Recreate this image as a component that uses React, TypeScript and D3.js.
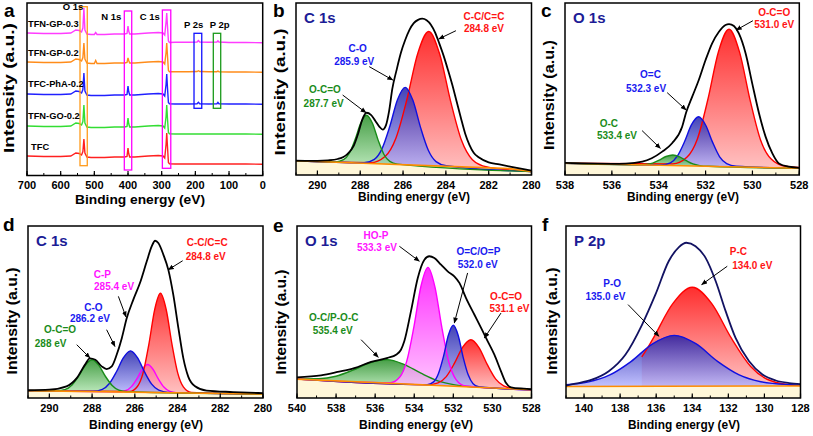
import React from "react";
import * as d3 from "d3";

type P = [number, number];

const FONT = "'Liberation Sans', Arial, Helvetica, sans-serif";

/* ===================== DATA ===================== */

// (a) survey spectra (binding energy grid, intensity in a.u. incl. stacking offset)
const surveyEnergy = [700, 650, 600, 570, 555, 545, 538, 534, 531, 528, 522, 510, 500, 496, 492, 470, 440, 410, 403, 400, 398, 395, 380, 340, 310, 296, 291, 287, 285, 283, 280, 277, 260, 220, 195, 191, 187, 160, 136, 133, 130, 100, 50, 0];
const surveyNames = ["TFN-GP-0.3", "TFN-GP-0.2", "TFC-PhA-0.2", "TFN-GO-0.2", "TFC"];
const surveyTFNGP03 = [142.5, 142, 142, 142.5, 145.5, 145, 143.5, 147.5, 167.5, 145.5, 141.5, 141, 141, 143, 141, 141, 141.5, 141.5, 142, 149.5, 144.5, 141.5, 141.5, 142.5, 143, 142.5, 140.5, 153.5, 162.5, 150.5, 134.5, 133, 133.2, 133.2, 133.5, 135, 133.5, 133.2, 133.5, 134.7, 133.5, 133, 133, 132.8];
const surveyTFNGP02 = [113.5, 113, 113, 113.5, 116.5, 116, 114.5, 118, 132.5, 116.5, 112.5, 112, 112, 115, 112, 112, 112.5, 112.5, 113, 117.5, 115, 112.5, 112.5, 113.5, 114, 113.5, 111.5, 123, 132.5, 121, 105, 103.7, 103.7, 103.7, 104, 104.8, 104, 103.7, 103.8, 104.5, 103.8, 103.5, 103.5, 103.3];
const surveyTFCPhA02 = [81.5, 81, 81, 81.5, 84.5, 84, 82.5, 86, 102.5, 84.5, 80.5, 80, 80, 80, 80, 80, 80.5, 80.5, 81, 89.5, 84, 80.5, 80.5, 81.5, 82, 81.5, 79.5, 91, 101.5, 89, 73, 71.7, 71.5, 71.5, 71.8, 73.2, 71.8, 71.5, 71.7, 73, 71.7, 71.5, 71.5, 71.3];
const surveyTFNGO02 = [49.5, 49, 49, 49.5, 52.5, 52, 50.5, 54, 70.5, 52.5, 48.5, 48, 48, 48, 48, 48, 48.5, 48.5, 49, 57.5, 52, 48.5, 48.5, 49.5, 50, 49.5, 47.5, 59, 70.5, 58, 43, 41.7, 41.5, 41.5, 41.5, 41.5, 41.5, 41.5, 41.5, 41.5, 41.5, 41.5, 41.5, 41.3];
const surveyTFC = [19.5, 19, 19, 19.5, 22.5, 22, 20.5, 24, 36.5, 22.5, 18.5, 18, 18, 18, 18, 18, 18.5, 18.5, 19, 27.5, 22, 18.5, 18.5, 19.5, 20, 19.5, 17.5, 31, 42.5, 30, 13, 11.7, 11.5, 11.5, 11.5, 11.5, 11.5, 11.5, 11.5, 11.5, 11.5, 11.5, 11.5, 11.3];
const surveyTicks = [700, 600, 500, 400, 300, 200, 100, 0];
const surveyPeakNames = ["O 1s", "N 1s", "C 1s", "P 2s", "P 2p"];
const surveyPeakRanges: P[] = [[542.6, 521], [411, 389], [298, 273], [204, 181], [146.7, 124.7]];

// (b) C 1s of TFC-type membrane: [eV, intensity above background]
const bTicks = [290, 288, 286, 284, 282, 280];
const bBackground: P[] = [[291, 8.3], [281, 3.7], [280, 2.0]];
const bOCO: P[] = [[291, 0], [289.14, 0.2], [288.78, 1.6], [288.51, 5.5], [288.24, 13.6], [287.97, 23.4], [287.7, 28], [287.43, 23.4], [287.16, 13.6], [286.89, 5.5], [286.62, 1.6], [286.26, 0.2], [280, 0]];
const bCO: P[] = [[291, 0], [287.82, 0.3], [287.34, 2.5], [286.98, 8.9], [286.62, 21.9], [286.26, 37.6], [285.9, 45], [285.54, 37.6], [285.18, 21.9], [284.82, 8.9], [284.46, 2.5], [283.98, 0.3], [280, 0]];
const bCC: P[] = [[291, 0], [287.52, 0.5], [286.84, 4.4], [286.33, 15.4], [285.82, 38], [285.31, 65.1], [284.8, 78], [284.29, 65.1], [283.78, 38], [283.27, 15.4], [282.76, 4.4], [282.08, 0.5], [280, 0]];
const bRaw: P[] = [[291, 0], [290, 0.4], [289.5, 0.9], [289.05, 1.9], [288.6, 5], [288.3, 10], [288.1, 17], [287.9, 25.5], [287.7, 29.4], [287.5, 28.3], [287.3, 25], [287.1, 21.5], [286.95, 20], [286.8, 22.5], [286.65, 31], [286.5, 44], [286.3, 55], [286.1, 65], [285.9, 72.5], [285.7, 78.5], [285.5, 82.5], [285.3, 84.5], [285.1, 85.3], [284.9, 84.5], [284.7, 82], [284.5, 77.5], [284.3, 71], [284.1, 64], [283.9, 56], [283.7, 47.5], [283.5, 38], [283.3, 28.5], [283.1, 19.5], [282.9, 13], [282.7, 8.5], [282.45, 5.8], [282.0, 3.2], [281.5, 2.2], [281, 1.2], [280, 0.5]];

// (c) O 1s
const cTicks = [538, 536, 534, 532, 530, 528];
const cBackground: P[] = [[538, 6.8], [528, 3.9]];
const cOC: P[] = [[538, 0], [534.94, 0.05], [534.55, 0.35], [534.26, 1.2], [533.98, 3.0], [533.69, 5.2], [533.4, 6.2], [533.11, 5.2], [532.82, 3.0], [532.54, 1.2], [532.25, 0.35], [531.86, 0.05], [528, 0]];
const cOeqC: P[] = [[538, 0], [533.9, 0.2], [533.5, 1.6], [533.2, 5.7], [532.9, 14], [532.6, 24], [532.3, 28.7], [532.0, 24], [531.7, 14], [531.4, 5.7], [531.1, 1.8], [530.7, 0.4], [528, 0]];
const cOCO: P[] = [[538, 0], [533.4, 1.0], [532.8, 5], [532.35, 15.8], [531.9, 39], [531.45, 66.8], [531.0, 80], [530.55, 66.8], [530.1, 39], [529.65, 15.8], [529.2, 5], [528.6, 1.0], [528, 0.5]];
const cRaw: P[] = [[538, 0.2], [536, 0.3], [535.4, 0.6], [534.7, 1.9], [534.3, 4], [533.85, 8], [533.43, 13], [533.0, 22.7], [532.83, 31], [532.57, 40.3], [532.29, 50.1], [532.0, 61.8], [531.72, 71.6], [531.43, 78.4], [531.15, 82.4], [531.0, 83], [530.79, 81.9], [530.58, 77.7], [530.29, 66.1], [530.01, 48.8], [529.72, 31.5], [529.44, 18], [529.15, 8.3], [528.87, 2.6], [528.45, 0.8], [528, 0.3]];

// (d) C 1s of TFN-GP
const dTicks = [290, 288, 286, 284, 282, 280];
const dBackground: P[] = [[291, 4.3], [280, 2.3]];
const dOCO: P[] = [[291, 0], [289.66, 0.15], [289.25, 1.0], [288.94, 3.7], [288.62, 9.0], [288.31, 15.4], [288.0, 18.5], [287.69, 15.4], [287.38, 9.0], [287.06, 3.7], [286.75, 1.0], [286.34, 0.15], [280, 0]];
const dCO: P[] = [[291, 0], [287.96, 0.15], [287.52, 1.35], [287.19, 4.8], [286.86, 11.7], [286.53, 20], [286.2, 24], [285.87, 20], [285.54, 11.7], [285.21, 4.8], [284.88, 1.35], [284.44, 0.15], [280, 0]];
const dCP: P[] = [[291, 0], [286.74, 0.1], [286.41, 0.9], [286.16, 3.2], [285.9, 7.9], [285.65, 13.5], [285.4, 16.2], [285.15, 13.5], [284.9, 7.9], [284.64, 3.2], [284.39, 0.9], [284.06, 0.1], [280, 0]];
const dCC: P[] = [[291, 0], [286.24, 0.35], [285.88, 3.3], [285.61, 11.4], [285.34, 28.1], [285.07, 48.2], [284.8, 57.7], [284.53, 48.2], [284.26, 28.1], [283.99, 11.4], [283.72, 3.3], [283.36, 0.35], [280, 0]];
const dRaw: P[] = [[291, 0.2], [290, 0.7], [289.2, 2.8], [288.72, 7.7], [288.33, 15.6], [288.1, 19.3], [287.85, 18.5], [287.55, 14.7], [287.32, 13.2], [287.08, 14.8], [286.85, 21.6], [286.61, 31.3], [286.38, 42.9], [286.07, 53.8], [285.76, 63.5], [285.44, 76.2], [285.21, 84.9], [285.05, 88.2], [284.9, 86.9], [284.66, 80.1], [284.43, 71.4], [284.2, 57], [283.96, 37.6], [283.73, 20.2], [283.5, 9.5], [283.18, 3.9], [282.64, 1.5], [281.4, 0.9], [280, 0.5]];

// (e) O 1s of TFN-GP
const eTicks = [540, 538, 536, 534, 532, 530, 528];
const eBackground: P[] = [[540, 11], [528, 4.8]];
const eOCPOC: P[] = [[540, 0.1], [538.88, 0.8], [538.01, 2.7], [537.14, 6.7], [536.27, 11.4], [535.4, 13.7], [534.53, 11.4], [533.66, 6.7], [532.79, 2.7], [531.92, 0.8], [530.76, 0.1], [528, 0]];
const eHOP: P[] = [[540, 0], [535.22, 0.4], [534.74, 3.9], [534.38, 13.5], [534.02, 33.3], [533.66, 57.1], [533.3, 68.4], [532.94, 57.1], [532.58, 33.3], [532.22, 13.5], [531.86, 3.9], [531.38, 0.4], [528, 0]];
const eOeqCP: P[] = [[540, 0], [533.34, 0.2], [533.01, 2.0], [532.76, 7.0], [532.5, 17.2], [532.25, 29.6], [532.0, 35.4], [531.75, 29.6], [531.5, 17.2], [531.24, 7.0], [530.99, 2.0], [530.66, 0.2], [528, 0]];
const eOCO: P[] = [[540, 0], [533.34, 0.17], [532.78, 1.55], [532.36, 5.4], [531.94, 13.4], [531.52, 23], [531.1, 27.5], [530.68, 23], [530.26, 13.4], [529.84, 5.4], [529.42, 1.55], [528.86, 0.17], [528, 0]];
const eRaw: P[] = [[540, 1], [538.77, 2.8], [537.92, 5.2], [537.07, 7.9], [536.21, 11.9], [535.36, 14.7], [534.93, 16.8], [534.68, 19.8], [534.51, 24.8], [534.17, 42.4], [533.82, 62], [533.48, 72.8], [533.23, 74.9], [532.97, 74], [532.63, 70.3], [532.29, 66.6], [531.95, 63.9], [531.69, 60.2], [531.35, 51.6], [530.92, 42.1], [530.58, 34.6], [530.24, 27], [529.9, 19.4], [529.56, 9.9], [529.3, 3.2], [529.05, 0.9], [528.4, 0.4], [528, 0.3]];

// (f) P 2p
const fTicks = [140, 138, 136, 134, 132, 130, 128];
const fBackground: P[] = [[141, 6.7], [128, 7.0]];
const fPC: P[] = [[136.8, 17.1], [136.5, 21.9], [136.16, 28], [135.08, 48], [134.0, 57.5], [132.92, 48], [131.84, 28], [130.76, 11.4], [129.68, 3.2], [128.24, 0.35], [128, 0.3]];
const fPO: P[] = [[141, 1.0], [139.8, 2.5], [138.6, 6.5], [137.4, 14.4], [136.2, 24.7], [135.0, 29.6], [133.8, 24.7], [132.6, 14.4], [131.4, 6.5], [130.2, 2.5], [128.6, 0.8], [128, 0.5]];
const fRaw: P[] = [[141, 0.5], [140.48, 1.6], [139.56, 3.9], [138.63, 8.8], [137.7, 18.5], [136.78, 35.9], [136.04, 53.4], [135.3, 72.8], [134.74, 80.9], [134.33, 83.4], [133.82, 81.4], [133.26, 74.6], [132.7, 61], [132.15, 43.6], [131.6, 28], [130.85, 14.4], [130.11, 6.7], [129.37, 3.2], [128.63, 1.7], [128, 1.1]];

/* ===================== STYLE / LAYOUT ===================== */

type Col = "red" | "blue" | "green" | "magenta";
const GRAD: Record<Col, [string, string]> = {
  red: ["#ff0000", "#ffb4b4"],
  blue: ["#1a1aa6", "#b4b4ff"],
  green: ["#1f8a1f", "#b4e8b4"],
  magenta: ["#ff00ff", "#ffbcff"],
};
const STROKE: Record<Col, string> = { red: "#ff0000", blue: "#1010e0", green: "#1a8c1a", magenta: "#ff00ff" };
const TEXTC: Record<Col, string> = { red: "#ff1414", blue: "#1a1af0", green: "#1a8c1a", magenta: "#ff14ff" };
const TITLE = "#1c1c96";

interface Frame { x0: number; x1: number; y0: number; y1: number }
interface Ann { color: Col; lines: [string, number, number][]; arrow: [P, P] }
interface Comp { color: Col; pts: P[] }
interface XpsCfg {
  id: string; letter: string; letterX: number; letterY: number; title: string;
  f: Frame; domain: [number, number]; ticks: number[];
  bg: P[]; comps: Comp[]; raw: P[]; rawColor: string; anns: Ann[];
  yLab: { x: number; y: number; len: number }; xLab: { x: number; y: number; len: number };
}

const panels: XpsCfg[] = [
  {
    id: "b", letter: "b", letterX: 273, letterY: 17, title: "C 1s",
    f: { x0: 296, x1: 531.5, y0: 3, y1: 175 }, domain: [291, 280], ticks: bTicks,
    bg: bBackground, raw: bRaw, rawColor: "#000",
    comps: [{ color: "red", pts: bCC }, { color: "blue", pts: bCO }, { color: "green", pts: bOCO }],
    anns: [
      { color: "red", lines: [["C-C/C=C", 282.22, 90.4], ["284.8 eV", 282.22, 83.1]], arrow: [[283.53, 83.9], [284.33, 79.1]] },
      { color: "blue", lines: [["C-O", 288.12, 71.7], ["285.9 eV", 288.28, 64]], arrow: [[287.58, 63], [286.48, 55.2]] },
      { color: "green", lines: [["O-C=O", 289.65, 47.5], ["287.7 eV", 289.71, 39.7]], arrow: [[288.82, 46.5], [287.73, 36.2]] },
    ],
    yLab: { x: 285, y: 92, len: 127 }, xLab: { x: 414, y: 201, len: 112 },
  },
  {
    id: "c", letter: "c", letterX: 541, letterY: 17, title: "O 1s",
    f: { x0: 565, x1: 799.3, y0: 3, y1: 175 }, domain: [538, 528], ticks: cTicks,
    bg: cBackground, raw: cRaw, rawColor: "#000",
    comps: [{ color: "red", pts: cOCO }, { color: "blue", pts: cOeqC }, { color: "green", pts: cOC }],
    anns: [
      { color: "red", lines: [["O-C=O", 529.07, 92.4], ["531.0 eV", 529.07, 85.3]], arrow: [[529.98, 89.7], [530.69, 84.3]] },
      { color: "blue", lines: [["O=C", 534.35, 56.2], ["532.3 eV", 534.54, 48.4]], arrow: [[533.64, 47.9], [532.83, 37.8]] },
      { color: "green", lines: [["O-C", 536.13, 27.7], ["533.4 eV", 535.78, 20.8]], arrow: [[534.71, 25.8], [533.93, 15.5]] },
    ],
    yLab: { x: 554, y: 95, len: 110 }, xLab: { x: 683, y: 201, len: 112 },
  },
  {
    id: "d", letter: "d", letterX: 3, letterY: 231, title: "C 1s",
    f: { x0: 28, x1: 263, y0: 226, y1: 398 }, domain: [291, 280], ticks: dTicks,
    bg: dBackground, raw: dRaw, rawColor: "#000",
    comps: [{ color: "magenta", pts: dCP }, { color: "red", pts: dCC }, { color: "blue", pts: dCO }, { color: "green", pts: dOCO }],
    anns: [
      { color: "red", lines: [["C-C/C=C", 282.61, 88.2], ["284.8 eV", 282.68, 80.4]], arrow: [[283.76, 79.8], [284.43, 74.6]] },
      { color: "magenta", lines: [["C-P", 287.52, 69.8], ["285.4 eV", 286.97, 63]], arrow: [[286.77, 59.1], [286.41, 47.1]] },
      { color: "blue", lines: [["C-O", 287.94, 50.4], ["286.2 eV", 288.1, 44]], arrow: [[287.32, 39.7], [286.93, 30]] },
      { color: "green", lines: [["O-C=O", 289.5, 37.8], ["288 eV", 289.94, 29.5]], arrow: [[288.72, 31], [288.1, 23.3]] },
    ],
    yLab: { x: 16.5, y: 321, len: 107 }, xLab: { x: 146, y: 429, len: 114 },
  },
  {
    id: "e", letter: "e", letterX: 273, letterY: 232, title: "O 1s",
    f: { x0: 297, x1: 531.5, y0: 226, y1: 398 }, domain: [540, 528], ticks: eTicks,
    bg: eBackground, raw: eRaw, rawColor: "#000",
    comps: [{ color: "green", pts: eOCPOC }, { color: "red", pts: eOCO }, { color: "magenta", pts: eHOP }, { color: "blue", pts: eOeqCP }],
    anns: [
      { color: "magenta", lines: [["HO-P", 535.96, 92.6], ["533.3 eV", 535.91, 85.3]], arrow: [[534.76, 88.2], [533.74, 79.5]] },
      { color: "blue", lines: [["O=C/O=P", 530.72, 83.3], ["532.0 eV", 530.75, 75.6]], arrow: [[531.27, 72.7], [531.95, 43.6]] },
      { color: "red", lines: [["O-C=O", 529.3, 57.2], ["531.1 eV", 529.13, 50]], arrow: [[529.56, 49.4], [530.41, 34.9]] },
      { color: "green", lines: [["O-C/P-O-C", 538.12, 44.9], ["535.4 eV", 538.17, 37.2]], arrow: [[536.72, 33.9], [535.84, 23.7]] },
    ],
    yLab: { x: 286, y: 322, len: 105 }, xLab: { x: 416, y: 429, len: 114 },
  },
  {
    id: "f", letter: "f", letterX: 542, letterY: 231, title: "P 2p",
    f: { x0: 566, x1: 800.5, y0: 226, y1: 398 }, domain: [141, 128], ticks: fTicks,
    bg: fBackground, raw: fRaw, rawColor: "#121262",
    comps: [{ color: "red", pts: fPC }, { color: "blue", pts: fPO }],
    anns: [
      { color: "red", lines: [["P-C", 131.44, 83], ["134.0 eV", 130.67, 75.2]], arrow: [[132.06, 76.6], [133.48, 65.9]] },
      { color: "blue", lines: [["P-O", 138.44, 64.5], ["135.0 eV", 138.81, 57.2]], arrow: [[137.56, 54.3], [135.85, 35.9]] },
    ],
    yLab: { x: 557, y: 321, len: 107 }, xLab: { x: 684, y: 429, len: 112 },
  },
];

const surveyColors = ["#ff3cff", "#ff8c1a", "#2020ff", "#33dd33", "#ff2020"];
const surveySeries = [surveyTFNGP03, surveyTFNGP02, surveyTFCPhA02, surveyTFNGO02, surveyTFC];
const surveyLabelPos: P[] = [[697, 149], [697, 119.5], [697, 88.5], [697, 56.5], [688, 26]];
const surveyBoxColors = ["#ff9a1a", "#ff00ff", "#ff00ff", "#1010ff", "#1a9a1a"];
const surveyBoxV: P[] = [[9.8, 168.8], [5.5, 164.5], [7.2, 165.5], [67.2, 142.2], [67.2, 142.2]];
const surveyBoxLabelPos: P[] = [[563, 165.5], [450, 155.5], [335.6, 155.5], [205, 147.2], [127.7, 147.2]];

/* ===================== COMPONENTS ===================== */

function BottomAxis({ x, f, ticks, minor }: { x: d3.ScaleLinear<number, number>; f: Frame; ticks: number[]; minor: number[] }) {
  return (
    <g>
      {minor.map((t) => (
        <line key={"m" + t} x1={x(t)} x2={x(t)} y1={f.y1} y2={f.y1 - 2.5} stroke="#000" strokeWidth={1} />
      ))}
      {ticks.map((t) => (
        <g key={"t" + t}>
          <line x1={x(t)} x2={x(t)} y1={f.y1} y2={f.y1 - 4.5} stroke="#000" strokeWidth={1.2} />
          <text x={x(t)} y={f.y1 + 13.5} textAnchor="middle" fontSize={11} fontWeight="bold" fill="#000">{t}</text>
        </g>
      ))}
    </g>
  );
}

function Labels({ yLab, xLab }: { yLab: { x: number; y: number; len: number }; xLab: { x: number; y: number; len: number } }) {
  return (
    <g>
      <text transform={`translate(${yLab.x},${yLab.y}) rotate(-90)`} textAnchor="middle" fontSize={14} fontWeight="bold"
        textLength={yLab.len} lengthAdjust="spacingAndGlyphs" fill="#000">Intensity (a.u.)</text>
      <text x={xLab.x} y={xLab.y} textAnchor="middle" fontSize={12} fontWeight="bold"
        textLength={xLab.len} lengthAdjust="spacingAndGlyphs" fill="#000">Binding energy (eV)</text>
    </g>
  );
}

function SurveyPanel() {
  const f: Frame = { x0: 27, x1: 262.7, y0: 3, y1: 175.5 };
  const x = d3.scaleLinear().domain([700, 0]).range([f.x0, f.x1]);
  const y = d3.scaleLinear().domain([0, 172.5]).range([f.y1, f.y0]);
  const line = d3.line<number>().x((_, i) => x(surveyEnergy[i])).y((d) => y(d));
  const minor = d3.range(0, 701, 50);
  return (
    <g>
      <clipPath id="clip-a"><rect x={f.x0} y={f.y0} width={f.x1 - f.x0} height={f.y1 - f.y0} /></clipPath>
      <g clipPath="url(#clip-a)">
        {surveySeries.map((s, i) => (
          <path key={i} d={line(s) || ""} fill="none" stroke={surveyColors[i]} strokeWidth={1.4} />
        ))}
      </g>
      {surveyPeakRanges.map((r, i) => (
        <rect key={"b" + i} x={x(r[0])} y={y(surveyBoxV[i][1])} width={x(r[1]) - x(r[0])}
          height={y(surveyBoxV[i][0]) - y(surveyBoxV[i][1])} fill="none" stroke={surveyBoxColors[i]} strokeWidth={1.3} />
      ))}
      {surveyPeakNames.map((n, i) => (
        <text key={"n" + i} x={x(surveyBoxLabelPos[i][0])} y={y(surveyBoxLabelPos[i][1])} textAnchor="middle"
          fontSize={9.5} fontWeight="bold" fill="#000">{n}</text>
      ))}
      {surveyNames.map((n, i) => (
        <text key={"s" + i} x={x(surveyLabelPos[i][0])} y={y(surveyLabelPos[i][1])} fontSize={9.3} fontWeight="bold" fill="#000">{n}</text>
      ))}
      <rect x={f.x0} y={f.y0} width={f.x1 - f.x0} height={f.y1 - f.y0} fill="none" stroke="#000" strokeWidth={1.5} />
      <BottomAxis x={x} f={f} ticks={surveyTicks} minor={minor} />
      <text x={4} y={17} fontSize={19} fontWeight="bold" fill="#000">a</text>
      <Labels yLab={{ x: 13.5, y: 88, len: 130 }} xLab={{ x: 140, y: 203.5, len: 130 }} />
    </g>
  );
}

function XpsPanel({ p }: { p: XpsCfg }) {
  const f = p.f;
  const x = d3.scaleLinear().domain(p.domain).range([f.x0, f.x1]);
  const y = d3.scaleLinear().domain([0, 100]).range([f.y1, f.y0]);
  const bgSorted = [...p.bg].sort((a, b) => a[0] - b[0]);
  const base = d3.scaleLinear().domain(bgSorted.map((d) => d[0])).range(bgSorted.map((d) => d[1])).clamp(true);
  const order = (pts: P[]) => [...pts].sort((a, b) => x(a[0]) - x(b[0]));
  const area = d3.area<P>().x((d) => x(d[0])).y0((d) => y(base(d[0]))).y1((d) => y(base(d[0]) + d[1])).curve(d3.curveMonotoneX);
  const line = d3.line<P>().x((d) => x(d[0])).y((d) => y(base(d[0]) + d[1])).curve(d3.curveMonotoneX);
  const bgPts = order(p.bg);
  const bgLine = d3.line<P>().x((d) => x(d[0])).y((d) => y(d[1]));
  const under = d3.area<P>().x((d) => x(d[0])).y0(f.y1).y1((d) => y(d[1]));
  const lo = Math.min(p.domain[0], p.domain[1]);
  const hi = Math.max(p.domain[0], p.domain[1]);
  const minor = d3.range(Math.ceil(lo), hi + 1e-6, 1);
  const clipId = "clip-" + p.id;
  return (
    <g>
      <clipPath id={clipId}><rect x={f.x0} y={f.y0} width={f.x1 - f.x0} height={f.y1 - f.y0} /></clipPath>
      <g clipPath={`url(#${clipId})`}>
        <path d={under(bgPts) || ""} fill="#fff5cf" fillOpacity={0.8} />
        {p.comps.map((c, i) => (
          <path key={"a" + i} d={area(order(c.pts)) || ""} fill={`url(#g-${c.color})`} fillOpacity={0.82} />
        ))}
        {p.comps.map((c, i) => (
          <path key={"l" + i} d={line(order(c.pts)) || ""} fill="none" stroke={STROKE[c.color]} strokeWidth={1.4} />
        ))}
        <path d={bgLine(bgPts) || ""} fill="none" stroke="#ff8c00" strokeWidth={1.6} />
        <path d={line(order(p.raw)) || ""} fill="none" stroke={p.rawColor} strokeWidth={1.8} />
      </g>
      <rect x={f.x0} y={f.y0} width={f.x1 - f.x0} height={f.y1 - f.y0} fill="none" stroke="#000" strokeWidth={1.5} />
      <BottomAxis x={x} f={f} ticks={p.ticks} minor={minor} />
      <text x={f.x0 + 8} y={f.y0 + 19.5} fontSize={15} fontWeight="bold" fill={TITLE}>{p.title}</text>
      {p.anns.map((a, i) => (
        <g key={"n" + i}>
          {a.lines.map((l, j) => (
            <text key={j} x={x(l[1])} y={y(l[2])} textAnchor="middle" fontSize={10} fontWeight="bold" fill={TEXTC[a.color]}>{l[0]}</text>
          ))}
          <line x1={x(a.arrow[0][0])} y1={y(a.arrow[0][1])} x2={x(a.arrow[1][0])} y2={y(a.arrow[1][1])}
            stroke="#000" strokeWidth={1} markerEnd="url(#arrowhead)" />
        </g>
      ))}
      <text x={p.letterX} y={p.letterY} fontSize={19} fontWeight="bold" fill="#000">{p.letter}</text>
      <Labels yLab={p.yLab} xLab={p.xLab} />
    </g>
  );
}

export default function App() {
  return (
    <svg width={813} height={436} viewBox="0 0 813 436" fontFamily={FONT}
      style={{ position: "absolute", left: 0, top: 0, display: "block", background: "#fff" }}>
      <defs>
        {(Object.keys(GRAD) as Col[]).map((k) => (
          <linearGradient key={k} id={`g-${k}`} x1="0" y1="0" x2="0" y2="1">
            <stop offset="0" stopColor={GRAD[k][0]} />
            <stop offset="1" stopColor={GRAD[k][1]} />
          </linearGradient>
        ))}
        <marker id="arrowhead" viewBox="0 0 10 10" refX="9" refY="5" markerWidth="6" markerHeight="6" orient="auto">
          <path d="M0,1 L10,5 L0,9 z" fill="#000" />
        </marker>
      </defs>
      <rect x={0} y={0} width={813} height={436} fill="#fff" />
      <SurveyPanel />
      {panels.map((p) => (
        <XpsPanel key={p.id} p={p} />
      ))}
    </svg>
  );
}
